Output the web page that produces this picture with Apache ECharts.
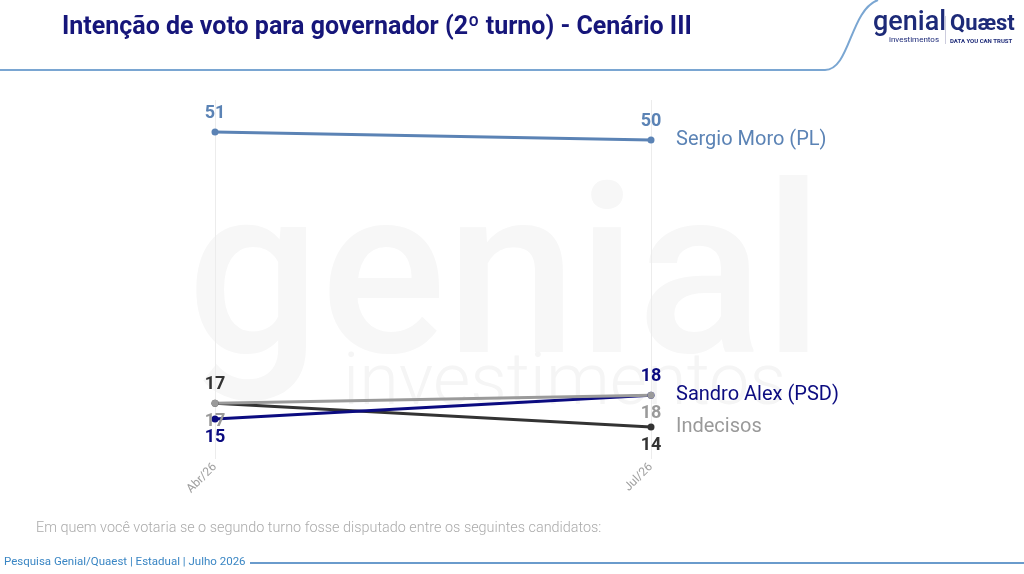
<!DOCTYPE html>
<html>
<head>
<meta charset="utf-8">
<script src="https://cdn.jsdelivr.net/npm/echarts@6/dist/echarts.min.js"></script>
<style>
  html, body { margin: 0; padding: 0; background: #fff; }
  #chart { width: 1024px; height: 574px; }
</style>
</head>
<body>
<div id="chart"></div>
<script>
(function() {
    var myChart = echarts.init(document.getElementById('chart'));

    // periodos da pesquisa
    var periodos = ['Abr/26', 'Jul/26'];

    // series
    var moro = [51, 50];
    var sandro = [15, 18];
    var cinza = [17, 18];
    var indecisos = [17, 14];

    var nomes = ['Sergio Moro (PL)', 'Sandro Alex (PSD)', '', 'Indecisos'];

    // posicao dos rotulos de cada ponto
    var posMoro = ['top', 'top'];
    var posSandro = ['bottom', 'top'];
    var posCinza = ['bottom', 'bottom'];
    var posIndecisos = ['top', 'bottom'];

    function pontos(valores, posicoes) {
        return valores.map(function(v, i) {
            return { value: v, label: { position: posicoes[i] } };
        });
    }

    function serie(nome, valores, posicoes, cor, corEnd, mostraEnd) {
        return {
            name: nome,
            type: 'line',
            data: pontos(valores, posicoes),
            symbol: 'circle',
            symbolSize: 7,
            lineStyle: { color: cor, width: 3 },
            itemStyle: { color: cor },
            label: {
                show: true,
                color: cor,
                fontSize: 18,
                fontWeight: 'bold',
                fontFamily: 'Roboto',
                distance: 6
            },
            endLabel: {
                show: mostraEnd,
                formatter: nome,
                color: corEnd,
                fontSize: 20,
                fontFamily: 'Roboto',
                distance: 25
            },
            emphasis: { disabled: true }
        };
    }

    var option = {
        animation: false,
        backgroundColor: '#fff',
        grid: { left: 215, right: 373, top: 100, bottom: 115, containLabel: false },
        xAxis: {
            type: 'category',
            data: periodos,
            boundaryGap: false,
            axisLine: { show: false },
            axisTick: { show: false },
            axisLabel: {
                rotate: 45,
                color: '#a0a0a0',
                fontSize: 12,
                fontFamily: 'Roboto',
                margin: 6
            },
            splitLine: { show: true, lineStyle: { color: '#ececec', width: 1 } }
        },
        yAxis: {
            type: 'value',
            min: 10,
            max: 55,
            show: false
        },
        graphic: [
            // marca d'agua
            {
                type: 'text', x: 187, y: 176, z: -10, silent: true,
                style: { text: 'genial', fontSize: 235, fontWeight: 500, fontFamily: 'Roboto', fill: '#f7f7f7' }
            },
            {
                type: 'text', x: 343, y: 350, z: -10, silent: true,
                style: { text: 'investimentos', fontSize: 72, fontWeight: 300, fontFamily: 'Roboto', fill: '#f5f5f5' }
            },
            // titulo
            {
                type: 'text', x: 62, y: 15,
                style: { text: 'Intenção de voto para governador (2º turno) - Cenário III', fontSize: 25, fontWeight: 'bold', fontFamily: 'Roboto', fill: '#16167a' }
            },
            // linha do cabecalho
            {
                type: 'line', silent: true,
                shape: { x1: 0, y1: 70, x2: 825, y2: 70 },
                style: { stroke: '#7aa6d2', lineWidth: 2 }
            },
            {
                type: 'bezierCurve', silent: true,
                shape: { x1: 825, y1: 70, cpx1: 850, cpy1: 70, cpx2: 850, cpy2: 10, x2: 878, y2: 0 },
                style: { stroke: '#7aa6d2', lineWidth: 2, fill: null }
            },
            // logos
            {
                type: 'text', x: 873, y: 10,
                style: { text: 'genial', fontSize: 27, fontWeight: 500, fontFamily: 'Roboto', fill: '#1d2a78' }
            },
            {
                type: 'text', x: 889, y: 36,
                style: { text: 'investimentos', fontSize: 8, fontFamily: 'Roboto', fill: '#1d2a78' }
            },
            {
                type: 'rect', shape: { x: 945, y: 16, width: 1, height: 28 },
                style: { fill: '#ccd' }
            },
            {
                type: 'text', x: 950, y: 13,
                style: { text: 'Quæst', fontSize: 22, fontWeight: 'bold', fontFamily: 'Roboto', fill: '#1d2a78' }
            },
            {
                type: 'text', x: 950, y: 38,
                style: { text: 'DATA YOU CAN TRUST', fontSize: 6, fontWeight: 'bold', fontFamily: 'Roboto', fill: '#1d2a78' }
            },
            // pergunta
            {
                type: 'text', x: 36, y: 521,
                style: { text: 'Em quem você votaria se o segundo turno fosse disputado entre os seguintes candidatos:', fontSize: 14.4, fontWeight: 300, fontFamily: 'Roboto', fill: '#ababab' }
            },
            // rodape
            {
                type: 'text', x: 4, y: 556,
                style: { text: 'Pesquisa Genial/Quaest | Estadual | Julho 2026', fontSize: 11.5, fontFamily: 'Roboto', fill: '#3a86c4' }
            },
            {
                type: 'line', silent: true,
                shape: { x1: 250, y1: 563, x2: 1024, y2: 563 },
                style: { stroke: '#6a9bcc', lineWidth: 2 }
            }
        ],
        series: [
            serie(nomes[0], moro, posMoro, '#5b83b5', '#5b83b5', true),
            serie(nomes[3], indecisos, posIndecisos, '#333333', '#9a9a9a', true),
            serie(nomes[1], sandro, posSandro, '#0b0b80', '#0b0b80', true),
            serie(nomes[2], cinza, posCinza, '#9a9a9a', '#9a9a9a', false)
        ]
    };

    myChart.setOption(option);
})();
</script>
</body>
</html>
